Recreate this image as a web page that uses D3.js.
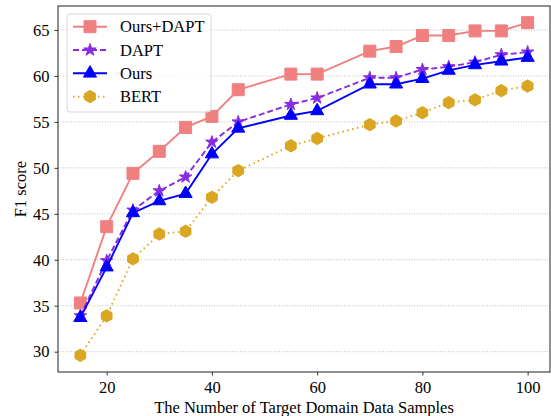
<!DOCTYPE html>
<html>
<head>
<meta charset="utf-8">
<script src="https://cdn.jsdelivr.net/npm/d3@7"></script>
<style>
  body { margin: 0; background: #fff; }
  svg text { font-family: "Liberation Serif", "Times New Roman", serif; }
</style>
</head>
<body>
<div id="chart"></div>
<script>
// sample counts on the x axis
var samples = [15, 20, 25, 30, 35, 40, 45, 55, 60, 70, 75, 80, 85, 90, 95, 100];

var oursDapt = [35.3, 43.6, 49.4, 51.8, 54.4, 55.6, 58.5, 60.2, 60.2, 62.7, 63.2, 64.4, 64.4, 64.9, 64.9, 65.8];
var dapt     = [33.9, 39.9, 45.4, 47.5, 49.0, 52.8, 55.0, 56.9, 57.6, 59.8, 59.8, 60.7, 61.0, 61.5, 62.3, 62.6];
var ours     = [33.7, 39.2, 45.1, 46.4, 47.2, 51.5, 54.3, 55.7, 56.2, 59.1, 59.1, 59.7, 60.6, 61.2, 61.6, 62.0];
var bert     = [29.6, 33.9, 40.1, 42.8, 43.1, 46.8, 49.7, 52.4, 53.2, 54.7, 55.1, 56.0, 57.1, 57.4, 58.4, 58.9];

var xTicks = [20, 40, 60, 80, 100];
var yTicks = [30, 35, 40, 45, 50, 55, 60, 65];

var W = 551, H = 416;
var margin = { left: 58, top: 6, right: 1, bottom: 44 };
var fontSize = 16.5;

// hexagon with a vertex on top
var hexagon = {
    draw: function(ctx, size) {
        var r = Math.sqrt(size / (1.5 * Math.sqrt(3)));
        for (var i = 0; i < 6; i++) {
            var a = Math.PI / 2 + i * Math.PI / 3;
            var px = r * Math.cos(a), py = -r * Math.sin(a);
            if (i === 0) ctx.moveTo(px, py); else ctx.lineTo(px, py);
        }
        ctx.closePath();
    }
};

var series = [
    { name: "Ours+DAPT", values: oursDapt, color: "#F08080", dash: null, symbol: d3.symbolSquare, size: 144 },
    { name: "DAPT", values: dapt, color: "#8A2BE2", dash: "6,3", symbol: d3.symbolStar, size: 48 },
    { name: "Ours", values: ours, color: "#0000FF", dash: null, symbol: d3.symbolTriangle, size: 75 },
    { name: "BERT", values: bert, color: "#DAA520", dash: "1.5,3.5", symbol: hexagon, size: 100 }
];

var svg = d3.select('#chart').append('svg')
    .attr('width', W)
    .attr('height', H);

var x = d3.scaleLinear()
    .domain([10.75, 104.25])
    .range([margin.left, W - margin.right]);

var y = d3.scaleLinear()
    .domain([27.79, 67.61])
    .range([H - margin.bottom, margin.top]);

// grid
svg.append('g')
    .selectAll('line')
    .data(yTicks)
    .join('line')
    .attr('x1', margin.left)
    .attr('x2', W - margin.right)
    .attr('y1', d => y(d))
    .attr('y2', d => y(d))
    .attr('stroke', '#b0b0b0')
    .attr('stroke-width', 0.8)
    .attr('stroke-dasharray', '1,1.6');

// axes
var xAxis = svg.append('g')
    .attr('transform', 'translate(0,' + (H - margin.bottom) + ')')
    .call(d3.axisBottom(x).tickValues(xTicks).tickSize(3.5).tickSizeOuter(0).tickPadding(6));

var yAxis = svg.append('g')
    .attr('transform', 'translate(' + margin.left + ',0)')
    .call(d3.axisLeft(y).tickValues(yTicks).tickSize(3.5).tickSizeOuter(0).tickPadding(5));

[xAxis, yAxis].forEach(function(a) {
    a.select('.domain').remove();
    a.selectAll('text').attr('font-size', fontSize).attr('fill', '#000')
        .style('font-family', '"Liberation Serif", serif');
    a.selectAll('line').attr('stroke', '#000').attr('stroke-width', 0.8);
});

// lines + markers
var line = d3.line()
    .x((d, i) => x(samples[i]))
    .y(d => y(d));

series.forEach(function(s) {
    svg.append('path')
        .datum(s.values)
        .attr('d', line)
        .attr('fill', 'none')
        .attr('stroke', s.color)
        .attr('stroke-width', 1.9)
        .attr('stroke-dasharray', s.dash);

    svg.append('g')
        .selectAll('path')
        .data(s.values)
        .join('path')
        .attr('transform', (d, i) => 'translate(' + x(samples[i]) + ',' + y(d) + ')')
        .attr('d', d3.symbol().type(s.symbol).size(s.size))
        .attr('fill', s.color)
        .attr('stroke', s.color)
        .attr('stroke-width', 1);
});

// frame
svg.append('rect')
    .attr('x', margin.left)
    .attr('y', margin.top)
    .attr('width', W - margin.right - margin.left)
    .attr('height', H - margin.bottom - margin.top)
    .attr('fill', 'none')
    .attr('stroke', '#222')
    .attr('stroke-width', 1);

// axis titles
svg.append('text')
    .attr('x', (margin.left + W - margin.right) / 2)
    .attr('y', 412.5)
    .attr('text-anchor', 'middle')
    .attr('font-size', fontSize)
    .text('The Number of Target Domain Data Samples');

svg.append('text')
    .attr('transform', 'translate(26,' + ((margin.top + H - margin.bottom) / 2) + ') rotate(-90)')
    .attr('text-anchor', 'middle')
    .attr('font-size', fontSize)
    .text('F1 score');

// legend
var legend = svg.append('g');

legend.append('rect')
    .attr('x', 67)
    .attr('y', 14)
    .attr('width', 144)
    .attr('height', 98)
    .attr('rx', 3)
    .attr('fill', 'rgba(255,255,255,0.8)')
    .attr('stroke', '#d6d6d6')
    .attr('stroke-width', 1);

series.forEach(function(s, i) {
    var ly = 26.7 + i * 23.3;
    legend.append('line')
        .attr('x1', 73)
        .attr('x2', 107)
        .attr('y1', ly)
        .attr('y2', ly)
        .attr('stroke', s.color)
        .attr('stroke-width', 1.9)
        .attr('stroke-dasharray', s.dash);
    legend.append('path')
        .attr('transform', 'translate(90,' + ly + ')')
        .attr('d', d3.symbol().type(s.symbol).size(s.size))
        .attr('fill', s.color)
        .attr('stroke', s.color)
        .attr('stroke-width', 1);
    legend.append('text')
        .attr('x', 120)
        .attr('y', ly + 5.6)
        .attr('font-size', fontSize)
        .text(s.name);
});
</script>
</body>
</html>
